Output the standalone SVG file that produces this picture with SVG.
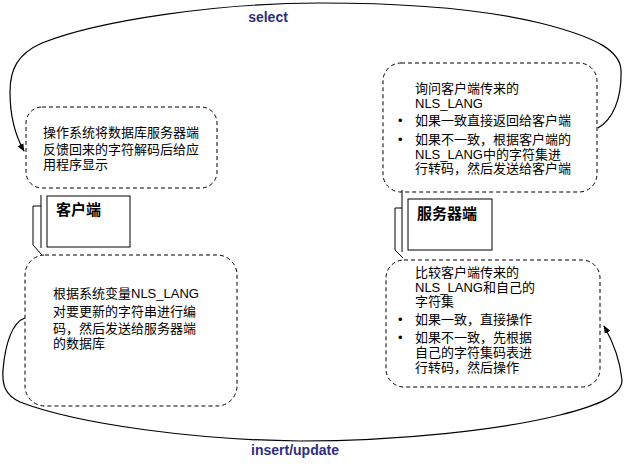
<svg xmlns="http://www.w3.org/2000/svg" width="624" height="469" viewBox="0 0 624 469">
<style>
.bubble{fill:#fff;stroke:#000;stroke-width:1;stroke-dasharray:4,3}
.t{font-family:"Liberation Sans","Noto Sans CJK SC",sans-serif;font-size:13px;fill:#000}
.lbl{font-family:"Liberation Sans","Noto Sans CJK SC",sans-serif;font-size:15px;font-weight:bold;fill:#000}
.edge{fill:none;stroke:#000;stroke-width:1.2}
.elbl{font-family:"Liberation Sans","DejaVu Sans",sans-serif;font-size:14px;font-weight:bold;fill:#2e2e7e}
.box{fill:#fff;stroke:#000;stroke-width:1}
.brk{fill:none;stroke:#000;stroke-width:1}
</style>
<defs>
<marker id="arr" viewBox="0 0 10 10" refX="9" refY="5" markerWidth="8" markerHeight="8" orient="auto" markerUnits="userSpaceOnUse">
<path d="M0,1 L10,5 L0,9 z" fill="#000"/>
</marker>
</defs>
<g id="connectors">
<path class="edge" marker-end="url(#arr)" d="M598,128 C612,120 622,100 621,70 C620,52 600,38 540,23 C470,6 380,3 320,3 C220,3 100,20 42,43 C17,54 10,70 10,92 C10,115 15,135 24,151"/>
<text class="elbl" x="268" y="22" text-anchor="middle">select</text>
<path class="edge" marker-end="url(#arr)" d="M25,318 C12,322 5,345 3,370 C2,385 5,395 20,402 C80,425 200,440 300,441 C400,441 500,430 560,415 C600,405 622,395 622,380 C620,360 612,340 604,326"/>
<text class="elbl" x="295" y="455" text-anchor="middle">insert/update</text>
</g>
<g id="client-display">
<rect class="bubble" x="26" y="107" width="191" height="81" rx="16"/>
<text class="t" x="43" y="137">操作系统将数据库服务器端</text>
<text class="t" x="43" y="154">反馈回来的字符解码后给应</text>
<text class="t" x="43" y="169">用程序显示</text>
</g>
<g id="client">
<path class="brk" d="M41,195 V248"/>
<path class="brk" d="M41,206 H33 V245 L42,255"/>
<rect class="box" x="47" y="196" width="83" height="51"/>
<text class="lbl" x="56" y="215">客户端</text>
</g>
<g id="client-encode">
<rect class="bubble" x="25" y="255" width="212" height="151" rx="20"/>
<text class="t" x="53" y="298">根据系统变量NLS_LANG</text>
<text class="t" x="53" y="316">对要更新的字符串进行编</text>
<text class="t" x="53" y="333">码，然后发送给服务器端</text>
<text class="t" x="53" y="348">的数据库</text>
</g>
<g id="server-query">
<rect class="bubble" x="383" y="63" width="214" height="129" rx="18"/>
<text class="t" x="415" y="93">询问客户端传来的</text>
<text class="t" x="415" y="108">NLS_LANG</text>
<text class="t" x="398" y="125">•</text>
<text class="t" x="415" y="125">如果一致直接返回给客户端</text>
<text class="t" x="398" y="144">•</text>
<text class="t" x="415" y="144">如果不一致，根据客户端的</text>
<text class="t" x="415" y="159">NLS_LANG中的字符集进</text>
<text class="t" x="415" y="173">行转码，然后发送给客户端</text>
</g>
<g id="server">
<path class="brk" d="M402,190 V252"/>
<path class="brk" d="M402,208 H395 V250 L403,258"/>
<rect class="box" x="408" y="199" width="84" height="51"/>
<text class="lbl" x="417" y="219">服务器端</text>
</g>
<g id="server-op">
<rect class="bubble" x="386" y="260" width="214" height="127" rx="18"/>
<text class="t" x="415" y="277">比较客户端传来的</text>
<text class="t" x="415" y="292">NLS_LANG和自己的</text>
<text class="t" x="415" y="306">字符集</text>
<text class="t" x="398" y="324">•</text>
<text class="t" x="415" y="324">如果一致，直接操作</text>
<text class="t" x="398" y="342">•</text>
<text class="t" x="415" y="342">如果不一致，先根据</text>
<text class="t" x="415" y="357">自己的字符集码表进</text>
<text class="t" x="415" y="372">行转码，然后操作</text>
</g>
</svg>
